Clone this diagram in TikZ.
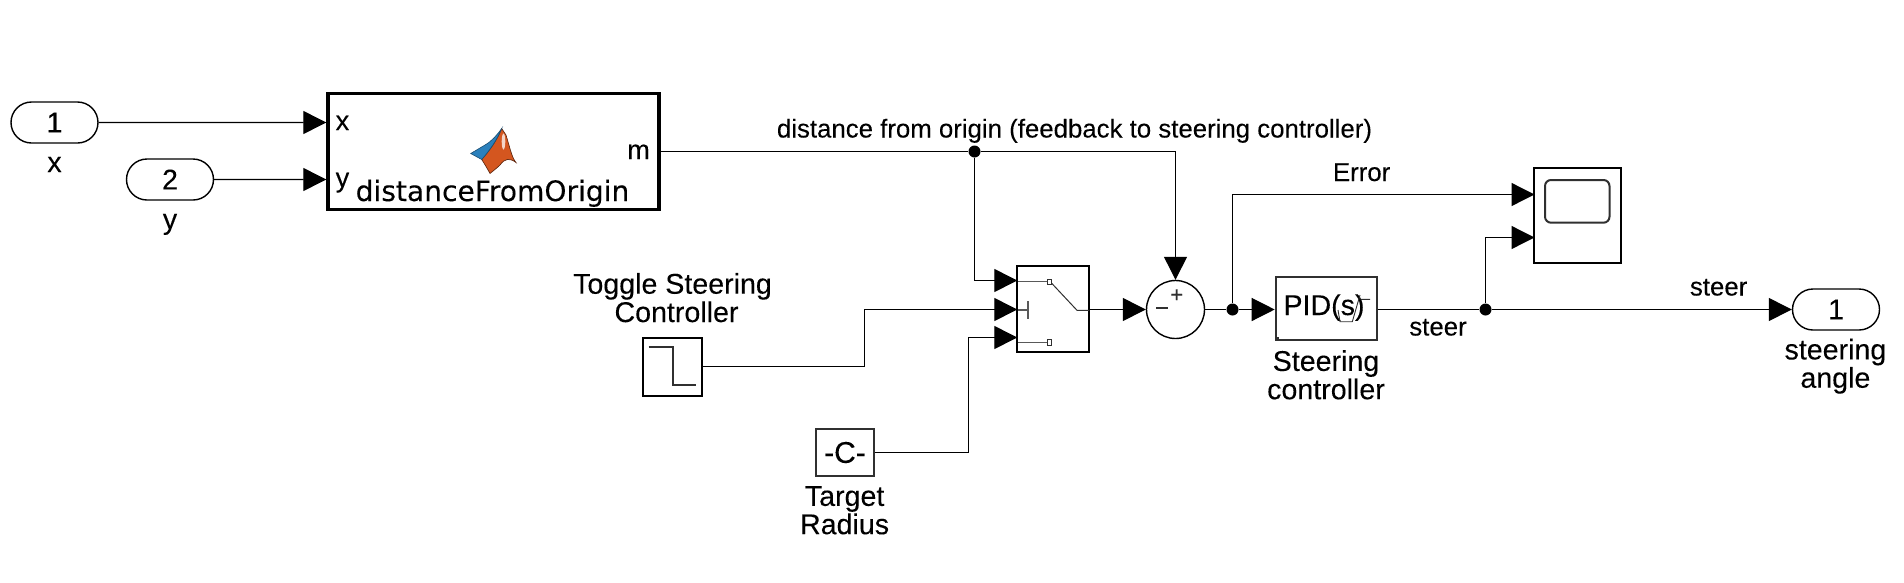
\documentclass[tikz,border=0pt]{standalone}
\usepackage{fontspec}
\setmainfont[FakeBold=0.12]{Liberation Sans}
\newfontfamily\blockfont[FakeBold=0.12]{DejaVu Sans}
\usepackage{tikz}
\usetikzlibrary{arrows.meta,shapes.misc}
\definecolor{mlorange}{HTML}{D4561F}
\definecolor{mlblue}{HTML}{2A80BC}
\definecolor{edgegray}{HTML}{303030}
\tikzset{
  lbl/.style={inner sep=0pt, align=center, font=\fontsize{28.6}{28.3}\selectfont},
  siglbl/.style={inner sep=0pt, font=\fontsize{25.8}{28}\selectfont},
  port/.style={draw, rounded rectangle, inner sep=0pt, line width=1.4pt, minimum width=87pt, minimum height=41pt, font=\fontsize{28.5}{28}\selectfont},
  block/.style={draw, inner sep=0pt, line width=2pt},
  junc/.style={circle, fill=black, inner sep=0pt, minimum size=12pt},
  wire/.style={line width=1.25pt},
  sig/.style={wire, -{Triangle[length=23pt,width=23pt]}},
  glyph/.style={edgegray, line width=1.4pt}
}
\begin{document}
\begin{tikzpicture}[x=1pt, y=-1pt]
  \useasboundingbox (0,0) rectangle (1904,582);
  % inports
  \node[port] (inx) at (54.5,122.5) {1};
  \node[port] (iny) at (170,179.5) {2};
  \node[lbl, anchor=base] (inxlbl) at (54.5,172) {x};
  \node[lbl, anchor=base] (inylbl) at (170,229) {y};
  % matlab function
  \node[block, line width=3.4pt, minimum width=331pt, minimum height=116pt] (mlfcn) at (493.5,151.5) {};
  \node[lbl, font=\fontsize{27}{28}\selectfont, anchor=base west] (mlx) at (335.5,130) {x};
  \node[lbl, font=\fontsize{27}{28}\selectfont, anchor=base west] (mly) at (335.5,187) {y};
  \node[lbl, font=\fontsize{27}{28}\selectfont, anchor=base east] (mlm) at (650,159) {m};
  \node[inner sep=0pt, anchor=base, font=\blockfont\fontsize{28.1}{28}\selectfont] (mlname) at (492.5,201) {distanceFromOrigin};
  \fill[mlorange, draw=black!60!mlorange, line width=.6pt] (501.7,128.5) -- (506,135) .. controls (510,148) and (512,158) .. (516,162.5)
    .. controls (510,158) and (505,158) .. (500,165) .. controls (497,168) and (493,171) .. (490,173.5)
    .. controls (487,168) and (484,163) .. (481.7,159.5) .. controls (490,150) and (497,140) .. (501.7,128.5) -- cycle;
  \fill[mlblue, draw=black!40!mlblue, line width=.6pt] (470.7,153.5) -- (485,145) .. controls (492,141) and (497,135) .. (501.7,128.5)
    .. controls (497,140) and (490,150) .. (481.7,159.5) -- cycle;
  \fill[white!75!mlorange] (503.5,141.5) ellipse (1.8 and 8);
  % switch and its inputs
  \node[block, minimum width=72pt, minimum height=86.6pt] (switch) at (1053.3,309) {};
  \coordinate (swa) at (1017.3,280.5);
  \coordinate (swb) at (1017.3,309.5);
  \coordinate (swc) at (1017.3,337.5);
  \draw[gray!70!black, line width=1.4pt] (1018.3,281.7) -- (1047.3,281.7) (1018.3,342.3) -- (1047.3,342.3)
    (1018.3,310) -- (1028,310) (1028,301) -- (1028,319.3);
  \draw[edgegray, line width=.9pt] (1047.3,279) rectangle (1051.3,284.3) (1047.3,339.3) rectangle (1051.3,345);
  \draw[edgegray, line width=1pt] (1051.7,283.3) -- (1077,310.3) -- (1089.3,310.3);
  % sources
  \node[block, minimum width=58.6pt, minimum height=58pt] (step) at (672.5,366.5) {};
  \draw[edgegray, line width=2pt] (648.6,347) -- (672.5,347) -- (672.5,385.3) -- (696.4,385.3);
  \node[lbl, anchor=south] (steplbl) at (672.5,322.5) {Toggle Steering\\\hspace*{8pt}Controller};
  \node[block, edgegray, minimum width=58.6pt, minimum height=47pt, text=black, font=\fontsize{30}{28}\selectfont] (const) at (845,452.5) {-C-};
  \node[lbl, anchor=north] (constlbl) at (844.6,486) {Target\\Radius};
  % sum, controller, scope, outport
  \node[draw, circle, inner sep=0pt, line width=1.4pt, minimum size=58pt] (sum) at (1175.5,309.5) {};
  \node[inner sep=0pt, text=edgegray, font=\fontsize{22}{22}\selectfont] (plus) at (1176.7,295.7) {+};
  \node[inner sep=0pt, text=edgegray, font=\fontsize{24}{22}\selectfont] (minus) at (1162,311.5) {\textminus};
  \node[block, edgegray, minimum width=101pt, minimum height=63.3pt] (pid) at (1326.2,308.6) {};
  \node[lbl, anchor=base] (pidtxt) at (1324,315) {PID(s)};
  \draw[edgegray, line width=.9pt] (1338,310) -- (1340,321.7) -- (1352.3,321.7) -- (1360,295) (1360.7,299.3) -- (1370,299.3);
  \fill[edgegray] (1276,336.5) rectangle (1279,339.5);
  \node[lbl, anchor=north] (pidlbl) at (1326,350) {Steering\\controller};
  \node[block, minimum width=86.5pt, minimum height=95pt] (scope) at (1577.7,215.8) {};
  \draw[edgegray, line width=2pt, rounded corners=6pt] (1545,180) rectangle (1609.5,222.7);
  \coordinate (scopea) at (1534.5,194.5);
  \coordinate (scopeb) at (1534.5,237.5);
  \node[port] (outp) at (1836,309.5) {1};
  \node[lbl, anchor=north] (outlbl) at (1835.4,338.5) {steering\\angle};
  % junctions
  \node[junc] (jfb) at (974.5,151.5) {};
  \node[junc] (jerr) at (1232.5,309.5) {};
  \node[junc] (jsteer) at (1485.5,309.5) {};
  \coordinate (fbturn) at (1175.5,151.5);
  % wire labels
  \node[siglbl, anchor=base] (fblbl) at (1074.5,137.5) {distance from origin (feedback to steering controller)};
  \node[siglbl, anchor=base] (errlbl) at (1361.6,181) {Error};
  \node[siglbl, anchor=base] (steerlbl) at (1438,335.5) {steer};
  \node[siglbl, anchor=base] (outsteer) at (1718.6,295.5) {steer};
  % connectors
  \draw[sig] (inx) -- (inx -| mlfcn.west);
  \draw[sig] (iny) -- (iny -| mlfcn.west);
  \draw[wire] (mlfcn.east) -- (jfb) -- (fbturn);
  \draw[sig] (fbturn) -- (sum.north);
  \draw[sig] (jfb) |- (swa);
  \draw[sig] (step.east) -- (864.5,366.5) |- (swb);
  \draw[sig] (const.east) -- (968.5,452.5) |- (swc);
  \draw[sig] (switch.east |- sum) -- (sum.west);
  \draw[wire] (sum.east) -- (jerr);
  \draw[sig] (jerr) -- (pid.west |- jerr);
  \draw[sig] (jerr) |- (scopea);
  \draw[wire] (pid.east |- jerr) -- (jsteer);
  \draw[sig] (jsteer) |- (scopeb);
  \draw[sig] (jsteer) -- (outp.west);
\end{tikzpicture}
\end{document}
